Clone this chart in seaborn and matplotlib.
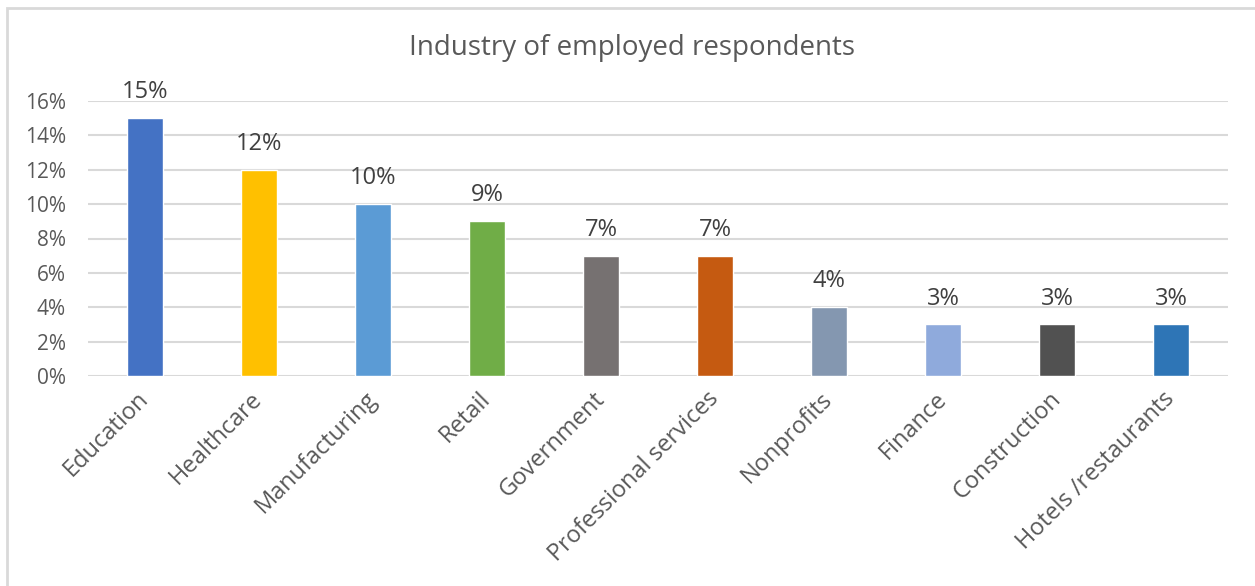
import matplotlib
matplotlib.use("Agg")
import matplotlib.pyplot as plt
from matplotlib.patches import Rectangle
from matplotlib.ticker import MultipleLocator, FuncFormatter
import seaborn as sns
import pandas as pd

categories = ["Education", "Healthcare", "Manufacturing", "Retail", "Government",
              "Professional services", "Nonprofits", "Finance", "Construction",
              "Hotels /restaurants"]
shares = [15, 12, 10, 9, 7, 7, 4, 3, 3, 3]
bar_colors = ["#4472C4", "#FFC000", "#5B9BD5", "#70AD47", "#767171",
              "#C55A11", "#8497B0", "#8FAADC", "#515151", "#2E75B6"]
title = "Industry of employed respondents"

df = pd.DataFrame({"industry": categories, "share": shares})

sns.set_theme(style="white")
plt.rcParams["font.family"] = ["Open Sans", "DejaVu Sans"]
text_color = "#595959"
grid_color = "#D9D9D9"

fig = plt.figure(figsize=(12.55, 5.86), dpi=100)
ax = fig.add_axes([88 / 1255, 1 - 376 / 586, (1228 - 88) / 1255, (376 - 101) / 586])

sns.barplot(data=df, x="industry", y="share", hue="industry",
            palette=bar_colors, width=0.32, legend=False, ax=ax, zorder=3,
            saturation=1)

ax.set_ylim(0, 16)
ax.set_xlim(-0.5, len(categories) - 0.5)
ax.yaxis.set_major_locator(MultipleLocator(2))
ax.yaxis.set_major_formatter(FuncFormatter(lambda v, _: f"{v:.0f}%"))
ax.grid(axis="y", color=grid_color, linewidth=1.5, zorder=0)
ax.grid(axis="x", visible=False)
for s in ax.spines.values():
    s.set_visible(False)
ax.set_xlabel("")
ax.set_ylabel("")
ax.tick_params(axis="y", length=0, pad=16, labelsize=15, labelcolor=text_color)
ax.tick_params(axis="x", length=0, pad=14, labelsize=17, labelcolor=text_color)
for lbl in ax.get_xticklabels():
    lbl.set_rotation(45)
    lbl.set_ha("right")
    lbl.set_va("center")
    lbl.set_rotation_mode("anchor")

for i, v in enumerate(shares):
    ax.annotate(f"{v}%", xy=(i, v), xytext=(0, 10), textcoords="offset points",
                ha="center", va="bottom", fontsize=17, color="#404040")

fig.text(0.5035, 1 - 48 / 586, title, ha="center", va="center",
         fontsize=20, color=text_color)

# light frame around the chart area
fig.patches.append(Rectangle((7 / 1255, -0.05), 1.2, 1 - 8 / 586 + 0.05,
                             transform=fig.transFigure, fill=False,
                             edgecolor=grid_color, linewidth=2, zorder=0))

fig.savefig("out.png", dpi=100)
